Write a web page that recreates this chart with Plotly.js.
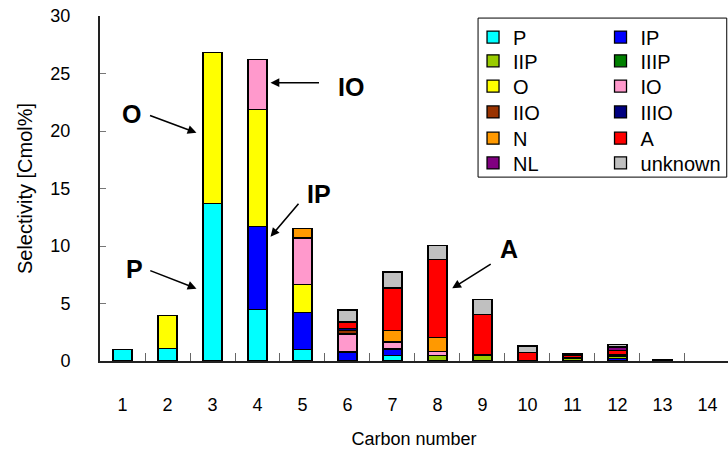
<!DOCTYPE html>
<html>
<head>
<meta charset="utf-8">
<script src="https://cdn.plot.ly/plotly-3.0.1.min.js"></script>
<style>
  html, body { margin: 0; padding: 0; background: #fff; }
  #chart { width: 728px; height: 449px; }
</style>
</head>
<body>
<div id="chart"></div>
<script>
// Carbon numbers on the x axis
const carbon = [1, 2, 3, 4, 5, 6, 7, 8, 9, 10, 11, 12, 13, 14];

// Selectivity [Cmol%] per product group, by carbon number (null = not detected)
const P       = [1.0, 1.1, 13.7, 4.5, 1.0, 0.05, 0.45, null, null, null, null, null, null, null];
const IP      = [null, null, null, 7.2, 3.2, 0.73, 0.6, null, null, null, null, 0.2, null, null];
const IIP     = [null, null, null, null, null, null, null, 0.45, 0.45, null, 0.2, 0.22, null, null];
const IIIP    = [null, null, null, null, null, null, null, null, 0.1, null, 0.1, 0.1, null, null];
const O       = [null, 2.85, 13.1, 10.2, 2.45, null, null, null, null, null, null, null, null, null];
const IO      = [null, null, null, 4.3, 4.05, 1.57, 0.6, 0.4, null, null, null, null, null, null];
const IIO     = [null, null, null, null, null, 0.3, null, null, null, null, null, null, null, null];
const IIIO    = [null, null, null, null, null, 0.18, null, null, null, null, null, null, null, null];
const N       = [null, null, null, null, 0.8, null, 1.0, 1.2, null, null, null, null, null, null];
const A       = [null, null, null, null, null, 0.56, 3.7, 6.8, 3.5, 0.75, 0.2, 0.4, null, null];
const NL      = [null, null, null, null, null, null, null, null, null, null, 0.1, 0.3, null, null];
const unknown = [null, null, null, null, null, 1.04, 1.4, 1.2, 1.3, 0.55, null, 0.2, 0.12, null];

const seriesNames = ['P', 'IP', 'IIP', 'IIIP', 'O', 'IO', 'IIO', 'IIIO', 'N', 'A', 'NL', 'unknown'];
const seriesData  = [P, IP, IIP, IIIP, O, IO, IIO, IIIO, N, A, NL, unknown];
const seriesColors = ['#00FFFF', '#0000FF', '#99CC00', '#008000', '#FFFF00', '#FF99CC',
                      '#993300', '#000080', '#FF9900', '#FF0000', '#800080', '#C0C0C0'];

// Each legend entry gets its own legend so the two-column key can be placed row by row
const legendId = i => (i === 0 ? 'legend' : 'legend' + (i + 1));

const traces = seriesNames.map((name, i) => ({
  type: 'bar',
  name: name,
  x: carbon,
  y: seriesData[i],
  width: 0.42,
  legend: legendId(i),
  marker: { color: seriesColors[i], line: { color: '#000', width: 1.3 } }
}));

// boundaries between carbon-number groups
const boundaries = carbon.slice(0, -1).map(c => c + 0.5);

const labelFont = { family: 'Liberation Sans, Arial, sans-serif', size: 25, color: '#000' };
const arrow = (x, y, ax, ay) => ({
  x: x, y: y, ax: ax, ay: ay, xref: 'x', yref: 'y', axref: 'x', ayref: 'y',
  text: '', showarrow: true, arrowhead: 2, arrowsize: 1.1, arrowwidth: 1.6, arrowcolor: '#000'
});
const label = (x, y, t) => ({
  x: x, y: y, xref: 'x', yref: 'y', text: '<b>' + t + '</b>', showarrow: false,
  font: labelFont, xanchor: 'center', yanchor: 'middle'
});

// key rows (paper y) and columns (paper x)
const rowY = [0.939, 0.870, 0.797, 0.722, 0.646, 0.574];
const colX = [0.594, 0.797];

const layout = {
  width: 728, height: 449,
  margin: { l: 100, r: 0, t: 16, b: 88 },
  paper_bgcolor: '#fff', plot_bgcolor: '#fff',
  barmode: 'stack',
  bargap: 0,
  showlegend: true,
  font: { family: 'Liberation Sans, Arial, sans-serif', size: 18, color: '#000' },
  xaxis: {
    range: [0.5, 14.456],
    tickmode: 'array', tickvals: carbon, ticktext: carbon.map(String),
    ticks: '', showgrid: false, zeroline: false,
    showline: true, linecolor: '#222', linewidth: 2,
    ticklabelstandoff: 26,
    tickfont: { size: 18 },
    minor: { tickmode: 'array', tickvals: boundaries, ticks: 'inside', ticklen: 8,
             tickcolor: '#666', tickwidth: 1, showgrid: false },
    title: { text: 'Carbon number', font: { size: 18 }, standoff: 20 },
    fixedrange: true
  },
  yaxis: {
    range: [0, 30], dtick: 5, tick0: 0,
    ticks: 'inside', ticklen: 6, tickcolor: '#777', tickwidth: 1,
    showgrid: false, zeroline: false,
    showline: true, linecolor: '#222', linewidth: 2,
    ticklabelstandoff: 24,
    tickfont: { size: 18 },
    title: { text: 'Selectivity [Cmol%]', font: { size: 20 }, standoff: 12 },
    fixedrange: true
  },
  shapes: [{
    type: 'rect', xref: 'paper', yref: 'paper',
    x0: 0.602, x1: 0.998, y0: 0.533, y1: 0.994,
    line: { color: '#000', width: 1 }, fillcolor: 'rgba(0,0,0,0)'
  }],
  annotations: [
    arrow(2.644, 19.85, 1.578, 21.39), label(1.193, 21.48, 'O'),
    arrow(2.644, 6.29, 1.584, 7.91),   label(1.267, 8.0, 'P'),
    arrow(4.289, 24.2, 5.4, 24.2),     label(6.067, 23.85, 'IO'),
    arrow(4.289, 10.81, 4.94, 13.8),   label(5.356, 14.52, 'IP'),
    arrow(8.327, 6.32, 9.216, 8.5),    label(9.584, 9.71, 'A')
  ]
};

seriesNames.forEach((name, i) => {
  layout[legendId(i)] = {
    orientation: 'v', bgcolor: 'rgba(0,0,0,0)', borderwidth: 0,
    font: { family: 'Liberation Sans, Arial, sans-serif', size: 20, color: '#000' },
    x: colX[i % 2], y: rowY[Math.floor(i / 2)], xanchor: 'left', yanchor: 'middle'
  };
});

Plotly.newPlot('chart', traces, layout, { displayModeBar: false, staticPlot: true });
</script>
</body>
</html>
